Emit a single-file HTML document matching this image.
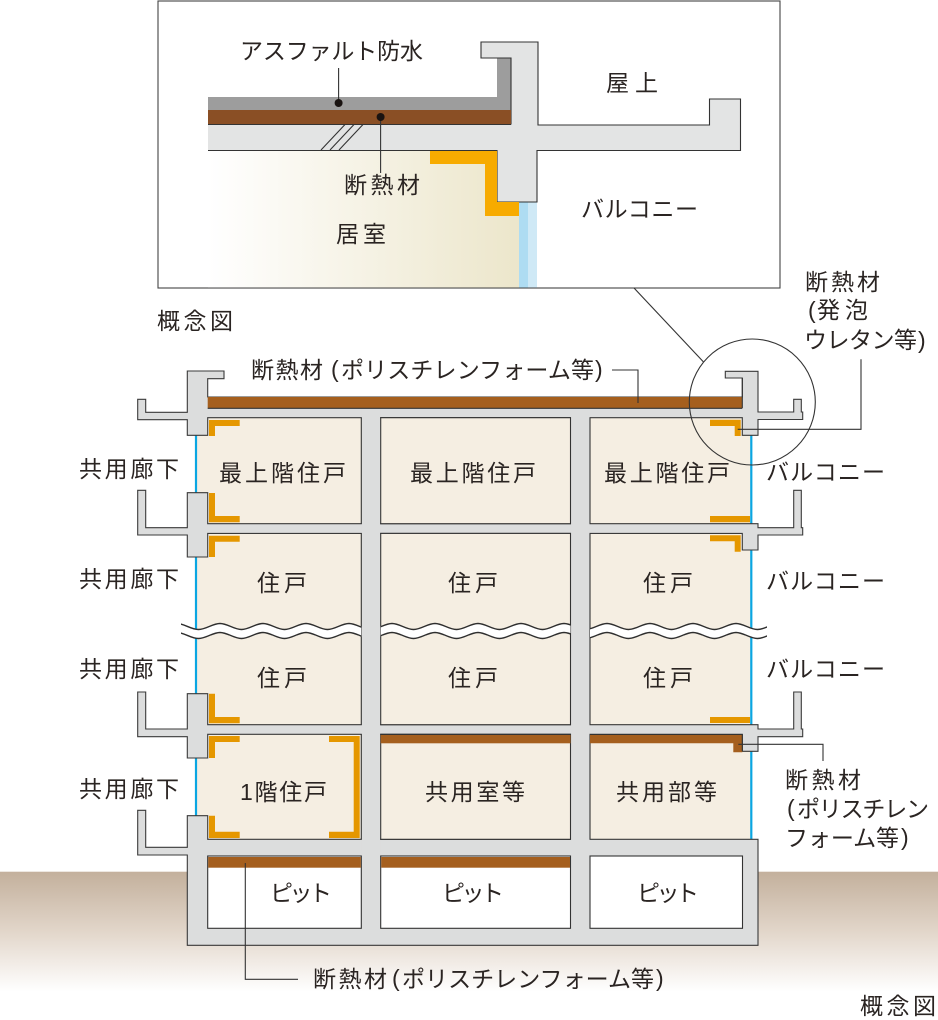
<!DOCTYPE html>
<html lang="ja">
<head>
<meta charset="utf-8">
<style>
html,body{margin:0;padding:0;background:#fff;width:938px;height:1020px;overflow:hidden}
svg{display:block}
text{font-family:"Liberation Sans","Noto Sans CJK JP",sans-serif;font-size:23px;fill:#2a2422}
.c{fill:#dcdddd;stroke:#3a3a3a;stroke-width:1.1}
.l{fill:none;stroke:#333;stroke-width:1.1}
.o{fill:#e59700}
.b{fill:#a55f1e}
.r{fill:#f5eee2}
</style>
</head>
<body>
<svg xmlns="http://www.w3.org/2000/svg" width="938" height="1020" viewBox="0 0 938 1020">
<defs>
<linearGradient id="g" x1="0" y1="0" x2="0" y2="1"><stop offset="0" stop-color="#c3b09c"/><stop offset=".5" stop-color="#e2d6ca"/><stop offset="1" stop-color="#fff"/></linearGradient>
<linearGradient id="rg" x1="0" y1="0" x2="1" y2="0"><stop offset="0" stop-color="#fff"/><stop offset="1" stop-color="#ece6cb"/></linearGradient>
<clipPath id="wc"><rect x="181" y="610" width="180.3" height="40"/><rect x="380.7" y="610" width="189.8" height="40"/><rect x="590" y="610" width="177" height="40"/></clipPath>
<path id="w" d="M177 623.500c7 0 14 6 21.500 6s14-6 21.500-6s14 6 21.500 6s14-6 21.500-6s14 6 21.500 6s14-6 21.500-6s14 6 21.500 6s14-6 21.500-6s14 6 21.500 6s14-6 21.500-6s14 6 21.500 6s14-6 21.500-6s14 6 21.500 6s14-6 21.500-6s14 6 21.500 6s14-6 21.500-6s14 6 21.500 6s14-6 21.500-6s14 6 21.500 6s14-6 21.500-6s14 6 21.500 6s14-6 21.500-6s14 6 21.500 6s14-6 21.500-6s14 6 21.500 6s14-6 21.500-6s14 6 21.500 6s14-6 21.500-6"/>
</defs>

<!-- detail box -->
<rect x="158" y="1" width="622" height="287" fill="#fff" stroke="#444" stroke-width="1.1"/>
<rect x="208" y="151" width="311" height="136.5" fill="url(#rg)"/>
<rect x="519" y="202" width="9" height="85.5" fill="#aedcf2"/>
<rect x="528" y="202" width="9" height="85.5" fill="#cfe9f6"/>
<path d="M208 124.500L511 124.500L511 58L481 58L481 42L538 42L538 125L709.500 125L709.500 99L740.500 99L740.500 150.500L537 150.500L537 202L497 202L497 150.500L208 150.500Z" fill="#e3e4e4"/>
<path d="M208 150.500L497 150.500L497 202L537 202L537 150.500L740.500 150.500L740.500 99L709.500 99L709.500 125L538 125L538 42L481 42L481 58L511 58" class="l"/>
<rect x="208" y="97" width="303" height="13" fill="#9d9d9d"/>
<rect x="497" y="58" width="14" height="52" fill="#9d9d9d"/>
<path d="M497 58H511V124.500" class="l"/>
<rect x="208" y="110" width="303" height="14.500" fill="#8a4f25"/>
<path d="M208 124.500H511" class="l"/>
<path d="M430 151H497V202H519V216H485V164H430Z" fill="#f7ab00"/>
<path d="M321 150L345 124.500M330 150L354 124.500M339 150L363 124.500" class="l" stroke-width=".9"/>
<path d="M338.600 68V103M380.600 117V173" class="l"/>
<circle cx="338.600" cy="103" r="4" fill="#1a1311"/>
<circle cx="380.600" cy="117" r="4" fill="#1a1311"/>
<text x="240" y="59" textLength="183">アスファルト防水</text>
<text x="606" y="91" textLength="52">屋上</text>
<text x="344" y="193" textLength="76">断熱材</text>
<text x="336" y="242" textLength="50">居室</text>
<text x="581" y="217" textLength="117">バルコニー</text>

<text x="157" y="329" textLength="76">概念図</text>
<text x="805" y="290" textLength="75">断熱材</text>
<text x="808" y="318">(</text>
<text x="817" y="318" textLength="51">発泡</text>
<text x="804" y="348" textLength="113">ウレタン等</text>
<text x="918" y="348">)</text>

<!-- ground -->
<rect x="0" y="871.700" width="938" height="120" fill="url(#g)"/>

<!-- room fills -->
<rect x="196" y="417" width="166" height="423" class="r"/>
<rect x="590" y="417" width="161" height="423" class="r"/>
<path d="M196 435V816" stroke="#0aa6e2" stroke-width="2.2" fill="none"/>
<path d="M751.300 435V840" stroke="#0aa6e2" stroke-width="2.2" fill="none"/>

<!-- slabs -->
<path class="c" d="M187.300 371H224V378.700H207.700V397H742.300V378H725.300V371.300H758V412H793.700V399.300H801.300V412H802.700V419.500H758V435.300H742.300V417.700H207.700V435.300H187.300V419.700H137.700V399.300H145.700V412.300H187.300Z"/>
<path class="c" d="M187.300 492.700H207.700V523.700H758V527.700H793.700V490.300H801.300V527.700H802.700V535H758V550H742.300V533.400H207.700V557H187.300V535H137.700V490.300H145.700V527.700H187.300Z"/>
<path class="c" d="M187.300 693.700H207.700V724.700H758V729H793.700V692H801.300V729H802.700V736.700H758V751.300H742.300V734.300H207.700V758H187.300V736.700H137.700V692H145.700V729H187.300Z"/>
<path class="c" d="M187.300 815.700H207.700V839.300H758V945.300H187.300V855H137.700V810.300H145.700V847.300H187.300Z"/>

<!-- columns -->
<rect x="361.800" y="409" width="18.400" height="447" fill="#dcdddd"/>
<rect x="571" y="409" width="18.500" height="447" fill="#dcdddd"/>

<!-- rooms -->
<g fill="#f5eee2" stroke="#333" stroke-width="1.100">
<rect x="380.700" y="417.700" width="189.800" height="106"/>
<rect x="380.700" y="533.400" width="189.800" height="191.300"/>
<rect x="380.700" y="734.300" width="189.800" height="105"/>
</g>
<g fill="#fff" stroke="#333" stroke-width="1.100">
<rect x="207.700" y="856" width="153.600" height="72.300"/>
<rect x="380.700" y="856" width="189.800" height="72.300"/>
<rect x="590" y="856" width="152.500" height="72.300"/>
</g>
<path class="l" d="M361.300 417.700V523.700M361.300 533.400V724.700M361.300 734.300V839.300M590 417.700V523.700M590 533.400V724.700M590 734.300V839.300"/>

<!-- brown -->
<rect x="207.700" y="397" width="534.600" height="11.300" class="b"/>
<path class="l" d="M207.700 408.300H742.300M742.300 378V408"/>
<path class="b" d="M590 735H742.300V752.300H733.300V743.300H590Z"/>
<path class="l" d="M590 734.500H742.300V751.300"/>
<path class="l" d="M380.700 734.500H570.500"/>
<rect x="380.700" y="735" width="189.800" height="8.300" class="b"/>
<rect x="208.200" y="857" width="152.600" height="10.700" class="b"/>
<rect x="381.200" y="857" width="188.800" height="10.700" class="b"/>

<!-- orange -->
<path class="o" d="M209 420H239.700V426H215V436H209Z"/>
<path class="o" d="M209 493H215V516H239.700V522.300H209Z"/>
<path class="o" d="M209 535.700H239.700V541.700H215V557H209Z"/>
<path class="o" d="M209 693.700H215V717H239.700V723.300H209Z"/>
<path class="o" d="M209 736H239.700V742H215V758H209Z"/>
<path class="o" d="M209 815.700H215V831.700H239.700V838H209Z"/>
<path class="o" d="M329 736H359.700V838H329V831.700H353.700V742H329Z"/>
<path class="o" d="M710 419.700H740.700V436H734.700V426H710Z"/>
<path class="o" d="M710 516H750V522.300H710Z"/>
<path class="o" d="M710 535.300H740.700V551.700H734.700V541.300H710Z"/>
<path class="o" d="M710 717H750V723H710Z"/>

<!-- wave -->
<g clip-path="url(#wc)" fill="none">
<use href="#w" y="4.500" stroke="#fff" stroke-width="9.500"/>
<use href="#w" stroke="#2e2e2e" stroke-width="1.400"/>
<use href="#w" y="9" stroke="#2e2e2e" stroke-width="1.400"/>
</g>

<!-- leaders -->
<circle cx="752.300" cy="402" r="63" class="l"/>
<path class="l" d="M634 288L703.300 361.700"/>
<path class="l" d="M737.700 429.300H861V359.300"/>
<path class="l" d="M738.300 744.300H823V761"/>
<path class="l" d="M245.300 863V979.300H298"/>
<path class="l" d="M612 370H638V403"/>

<!-- labels -->
<text x="251" y="378" textLength="72">断熱材</text>
<text x="331" y="377">(</text>
<text x="341" y="378" textLength="253">ポリスチレンフォーム等</text>
<text x="595" y="377">)</text>
<text x="79" y="477" textLength="100">共用廊下</text>
<text x="79" y="587" textLength="100">共用廊下</text>
<text x="79" y="677" textLength="100">共用廊下</text>
<text x="79" y="797" textLength="100">共用廊下</text>
<text x="766" y="480" textLength="119">バルコニー</text>
<text x="766" y="589" textLength="119">バルコニー</text>
<text x="766" y="677" textLength="119">バルコニー</text>
<text x="219" y="481" textLength="127">最上階住戸</text>
<text x="410" y="481" textLength="126">最上階住戸</text>
<text x="604" y="481" textLength="126">最上階住戸</text>
<text x="257" y="591" textLength="50">住戸</text>
<text x="448" y="591" textLength="50">住戸</text>
<text x="643" y="591" textLength="50">住戸</text>
<text x="257" y="686" textLength="50">住戸</text>
<text x="448" y="686" textLength="50">住戸</text>
<text x="643" y="686" textLength="50">住戸</text>
<text x="240" y="800" textLength="87">1階住戸</text>
<text x="425" y="800" textLength="100">共用室等</text>
<text x="616" y="800" textLength="101">共用部等</text>
<text x="270" y="901" textLength="62">ピット</text>
<text x="442" y="901" textLength="62">ピット</text>
<text x="637" y="901" textLength="62">ピット</text>
<text x="785" y="788" textLength="76">断熱材</text>
<text x="787" y="816">(</text>
<text x="797" y="817" textLength="132">ポリスチレン</text>
<text x="785" y="846" textLength="114">フォーム等</text>
<text x="901" y="845">)</text>
<text x="313" y="987" textLength="74">断熱材</text>
<text x="392" y="986">(</text>
<text x="402" y="987" textLength="252">ポリスチレンフォーム等</text>
<text x="656" y="986">)</text>
<text x="860" y="1014" textLength="76">概念図</text>
</svg>
</body>
</html>
